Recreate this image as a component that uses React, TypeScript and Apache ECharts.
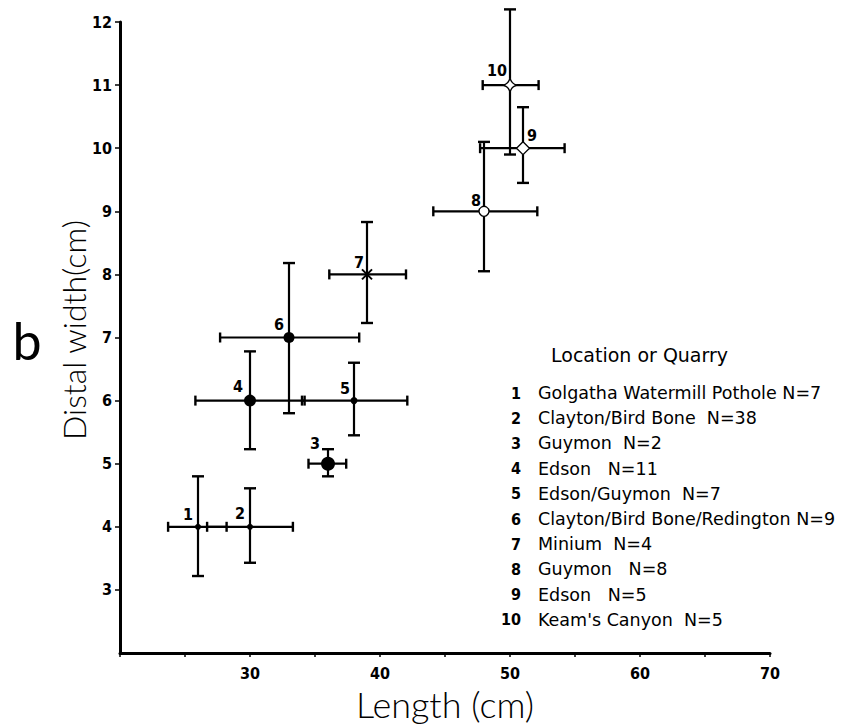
import React, { useEffect, useRef } from "react";
import * as echarts from "echarts";

const ids = ["1", "2", "3", "4", "5", "6", "7", "8", "9", "10"];
const locations = [
  "Golgatha Watermill Pothole N=7",
  "Clayton/Bird Bone  N=38",
  "Guymon  N=2",
  "Edson   N=11",
  "Edson/Guymon  N=7",
  "Clayton/Bird Bone/Redington N=9",
  "Minium  N=4",
  "Guymon   N=8",
  "Edson   N=5",
  "Keam's Canyon  N=5",
];
const lengthMean = [26, 30, 36, 30, 38, 33, 39, 48, 51, 50];
const lengthLow = [23.7, 26.7, 34.5, 25.8, 34.0, 27.7, 36.1, 44.1, 47.7, 47.9];
const lengthHigh = [28.2, 33.3, 37.4, 34.2, 42.1, 38.4, 42.0, 52.1, 54.2, 52.2];
const widthMean = [4, 4, 5, 6, 6, 7, 8, 9, 10, 11];
const widthLow = [3.22, 3.43, 4.8, 5.23, 5.45, 5.8, 7.23, 8.05, 9.45, 9.9];
const widthHigh = [4.8, 4.61, 5.23, 6.78, 6.6, 8.18, 8.83, 10.1, 10.65, 12.2];

const xTicks = { min: 20, max: 70, interval: 10 };
const yTicks = { min: 2, max: 12, interval: 1 };

// styles (not data)
const markerSymbols = [
  "circle", "circle", "circle", "circle", "circle", "circle",
  "path://M0,0L10,10M10,0L0,10",
  "circle", "diamond",
  "path://M0,-10Q2,-2 10,0Q2,2 0,10Q-2,2 -10,0Q-2,-2 0,-10Z",
];
const markerSizes = [6, 6, 14, 12, 7, 11, 10, 10, 13, 14];
const markerOpen = [false, false, false, false, false, false, true, true, true, true];
const labelOffsets = [
  [-10, -12], [-10, -13], [-13, -20], [-12, -14], [-9, -12],
  [-10, -13], [-8, -12], [-8, -11], [9, -13], [-13, -15],
];

const numFont = "'DejaVu Sans Condensed', 'Liberation Sans Narrow', sans-serif";
const lightFont = "Lato, 'Open Sans', sans-serif";
const legendFont = "'DejaVu Sans', sans-serif";

export default function App() {
  const ref = useRef<HTMLDivElement>(null);
  useEffect(() => {
    document.body.style.margin = "0";
    if (!ref.current) return;
    const chart = echarts.init(ref.current, null, { renderer: "svg" });
    const errData = ids.map((id, i) => [
      lengthMean[i], widthMean[i], lengthLow[i], lengthHigh[i], widthLow[i], widthHigh[i], i,
    ]);
    const markerData = ids.map((id, i) => ({
      name: id,
      value: [lengthMean[i], widthMean[i]],
      symbol: markerSymbols[i],
      symbolSize: markerSizes[i],
      itemStyle: markerOpen[i]
        ? { color: i === 6 ? "rgba(0,0,0,0)" : "#fff", borderColor: "#000", borderWidth: i === 6 ? 2 : 1.3, opacity: 1 }
        : { color: "#000", opacity: 1 },
    }));
    const legendChildren: any[] = [
      {
        type: "text",
        x: 551,
        y: 355,
        style: { text: "Location or Quarry", font: `19px ${legendFont}`, fill: "#000", verticalAlign: "middle" },
      },
    ];
    ids.forEach((id, i) => {
      const y = 393 + i * 25.2;
      legendChildren.push({
        type: "text",
        x: 521,
        y,
        style: { text: id, font: `bold 16px ${numFont}`, fill: "#000", align: "right", verticalAlign: "middle" },
      });
      legendChildren.push({
        type: "text",
        x: 538,
        y,
        style: { text: locations[i], font: `17.5px ${legendFont}`, fill: "#000", align: "left", verticalAlign: "middle" },
      });
    });

    chart.setOption({
      animation: false,
      backgroundColor: "#fff",
      grid: { left: 120, right: 71, top: 22, bottom: 72, containLabel: false, outerBoundsMode: "none" },
      xAxis: {
        type: "value",
        min: xTicks.min,
        max: xTicks.max,
        interval: xTicks.interval,
        name: "Length (cm)",
        nameLocation: "middle",
        nameGap: 30,
        nameTextStyle: { fontFamily: lightFont, fontSize: 36, color: "#000", fontWeight: 300 },
        axisLine: { lineStyle: { color: "#000", width: 3 } },
        axisTick: { show: true, length: 4, lineStyle: { color: "#000", width: 1.5 } },
        minorTick: { show: true, splitNumber: 2, length: 4, lineStyle: { color: "#000", width: 1.5 } },
        splitLine: { show: false },
        axisLabel: {
          showMinLabel: false,
          margin: 12,
          fontFamily: numFont,
          fontWeight: "bold",
          fontSize: 16,
          color: "#000",
        },
      },
      yAxis: {
        type: "value",
        min: yTicks.min,
        max: yTicks.max,
        interval: yTicks.interval,
        axisLine: { show: true, lineStyle: { color: "#000", width: 3 } },
        axisTick: { show: true, length: 5, lineStyle: { color: "#000", width: 1.5 } },
        splitLine: { show: false },
        axisLabel: {
          showMinLabel: false,
          margin: 8,
          fontFamily: numFont,
          fontWeight: "bold",
          fontSize: 16,
          color: "#000",
        },
      },
      graphic: [
        {
          type: "text",
          x: 73,
          y: 330,
          rotation: Math.PI / 2,
          style: {
            text: "Distal width(cm)",
            font: `300 32px ${lightFont}`,
            fill: "#000",
            align: "center",
            verticalAlign: "middle",
          },
        },
        {
          type: "text",
          x: 27,
          y: 340,
          style: { text: "b", font: `52px ${lightFont}`, fill: "#000", align: "center", verticalAlign: "middle" },
        },
        { type: "group", children: legendChildren },
      ],
      series: [
        {
          type: "custom",
          clip: false,
          data: errData,
          encode: { x: [0, 2, 3], y: [1, 4, 5] },
          renderItem: (params: any, api: any) => {
            const x = api.value(0), y = api.value(1);
            const xl = api.value(2), xh = api.value(3);
            const yl = api.value(4), yh = api.value(5);
            const idx = api.value(6);
            const c = api.coord([x, y]);
            const pl = api.coord([xl, y]);
            const ph = api.coord([xh, y]);
            const pb = api.coord([x, yl]);
            const pt = api.coord([x, yh]);
            const st = { stroke: "#000", lineWidth: 2.2 };
            const cs = { stroke: "#000", lineWidth: 2.4 };
            const off = labelOffsets[idx];
            return {
              type: "group",
              children: [
                { type: "line", shape: { x1: pl[0], y1: pl[1], x2: ph[0], y2: ph[1] }, style: st },
                { type: "line", shape: { x1: pl[0], y1: pl[1] - 5, x2: pl[0], y2: pl[1] + 5 }, style: cs },
                { type: "line", shape: { x1: ph[0], y1: ph[1] - 5, x2: ph[0], y2: ph[1] + 5 }, style: cs },
                { type: "line", shape: { x1: pb[0], y1: pb[1], x2: pt[0], y2: pt[1] }, style: st },
                { type: "line", shape: { x1: pb[0] - 6, y1: pb[1], x2: pb[0] + 6, y2: pb[1] }, style: cs },
                { type: "line", shape: { x1: pt[0] - 6, y1: pt[1], x2: pt[0] + 6, y2: pt[1] }, style: cs },
                {
                  type: "text",
                  x: c[0] + off[0],
                  y: c[1] + off[1],
                  style: {
                    text: ids[idx],
                    font: `bold 16px ${numFont}`,
                    fill: "#000",
                    align: "center",
                    verticalAlign: "middle",
                  },
                },
              ],
            };
          },
          z: 2,
        },
        {
          type: "scatter",
          data: markerData,
          z: 3,
        },
      ],
    });
    return () => chart.dispose();
  }, []);
  return <div ref={ref} style={{ width: 841, height: 725 }} />;
}
